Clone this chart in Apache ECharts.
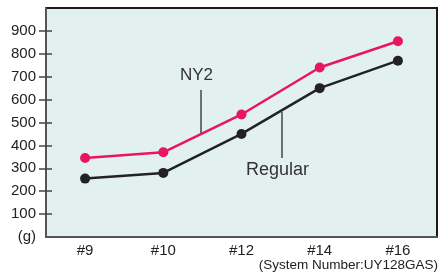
<!DOCTYPE html>
<html>
<head>
<meta charset="utf-8">
<script src="https://cdn.jsdelivr.net/npm/echarts@6/dist/echarts.min.js"></script>
<style>
  html, body { margin: 0; padding: 0; background: #fff; }
  #chart { width: 440px; height: 273px; }
</style>
</head>
<body>
<div id="chart"></div>
<script>
var categories = ["#9", "#10", "#12", "#14", "#16"];
var ny2 = [345, 370, 535, 740, 855];
var regular = [255, 280, 450, 650, 770];
var tickValues = [100, 200, 300, 400, 500, 600, 700, 800, 900];
var labelValues = [0, 100, 200, 300, 400, 500, 600, 700, 800, 900];

var font = "Liberation Sans";
var myChart = echarts.init(document.getElementById("chart"));

var yBase = {
  type: "value",
  min: 0,
  max: 1000,
  interval: 100,
  splitLine: { show: false }
};

var option = {
  animation: false,
  grid: {
    left: 46, right: 3, top: 8, bottom: 36,
    show: true,
    backgroundColor: "#e2f1f0",
    borderColor: "#1a1a1a",
    borderWidth: 2
  },
  xAxis: {
    type: "category",
    data: categories,
    boundaryGap: true,
    axisLine: { lineStyle: { color: "#555", width: 2 } },
    axisTick: { show: false },
    axisLabel: { color: "#222", fontSize: 15, fontFamily: font, margin: 6 }
  },
  yAxis: [
    Object.assign({}, yBase, {
      axisLine: { show: true, lineStyle: { color: "#555", width: 2 } },
      axisTick: { show: true, length: 7, customValues: tickValues, lineStyle: { color: "#444", width: 1.5 } },
      axisLabel: {
        color: "#222", fontSize: 15, fontFamily: font, margin: 10,
        customValues: labelValues,
        formatter: function (v) { return v === 0 ? "(g)" : String(v); }
      }
    }),
    Object.assign({}, yBase, {
      position: "left",
      axisLine: { show: false },
      axisTick: { show: true, inside: true, length: 6, customValues: tickValues, lineStyle: { color: "#444", width: 1.5 } },
      axisLabel: { show: false }
    })
  ],
  series: [
    {
      name: "NY2",
      type: "line",
      data: ny2,
      symbol: "circle",
      symbolSize: 10,
      itemStyle: { color: "#e8175d" },
      lineStyle: { color: "#e8175d", width: 2.5 },
      z: 3
    },
    {
      name: "Regular",
      type: "line",
      data: regular,
      symbol: "circle",
      symbolSize: 10,
      itemStyle: { color: "#222" },
      lineStyle: { color: "#222", width: 2.5 },
      z: 3
    }
  ],
  graphic: [
    { type: "text", left: 180, top: 67, style: { text: "NY2", fontSize: 17, fontFamily: font, fill: "#333" } },
    { type: "line", shape: { x1: 201, y1: 90, x2: 201, y2: 135 }, style: { stroke: "#444", lineWidth: 1.5 } },
    { type: "text", left: 246, top: 161, style: { text: "Regular", fontSize: 18, fontFamily: font, fill: "#333" } },
    { type: "line", shape: { x1: 282, y1: 112, x2: 282, y2: 158 }, style: { stroke: "#444", lineWidth: 1.5 } },
    { type: "text", right: 2, top: 258, style: { text: "(System Number:UY128GAS)", fontSize: 13.5, fontFamily: font, fill: "#222" } }
  ]
};

myChart.setOption(option);
</script>
</body>
</html>
